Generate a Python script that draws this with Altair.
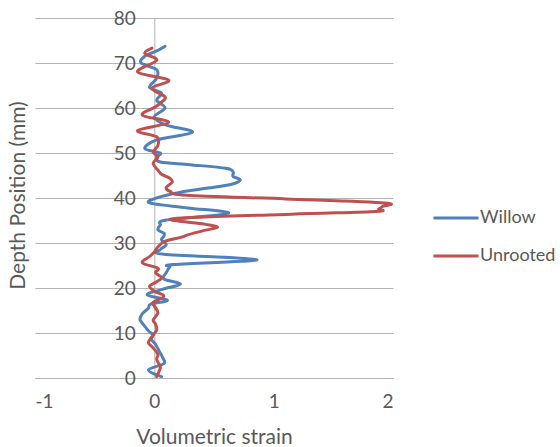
import altair as alt
import pandas as pd

# ---- data ----
willow_depth = [0.3, 1.8, 3.2, 4.5, 6.0, 7.5, 8.7, 9.5, 10.5, 11.5, 13.0, 14.3, 15.5, 16.4, 17.3,
                18.5, 19.8, 20.9, 22.0, 23.4, 24.7, 25.2, 26.3, 27.5, 28.5, 29.6, 30.7, 31.5, 32.2,
                32.9, 34.0, 35.1, 36.6, 37.8, 38.9, 40.2, 41.3, 42.2, 43.0, 44.0, 44.8, 45.8, 46.6,
                47.4, 48.0, 49.1, 50.0, 51.0, 52.9, 54.6, 56.2, 58.0, 60.0, 61.7, 63.3, 64.6, 66.6,
                68.5, 70.0, 71.5, 72.8, 73.7]
willow_strain = [0.06, -0.05, 0.08, 0.07, 0.04, 0.01, -0.03, -0.01, -0.05, -0.08, -0.12, -0.10, -0.05,
                 -0.03, 0.11, -0.06, 0.08, 0.22, 0.08, 0.10, 0.13, 0.16, 0.86, 0.08, 0.05, 0.10, 0.06,
                 0.08, 0.08, 0.03, 0.05, 0.10, 0.62, 0.28, -0.04, 0.04, 0.22, 0.45, 0.64, 0.72, 0.66,
                 0.66, 0.60, 0.30, 0.05, 0.02, 0.05, -0.08, 0.02, 0.32, 0.10, 0.00, 0.09, 0.02, 0.06,
                 -0.04, 0.02, 0.02, -0.11, -0.08, 0.03, 0.09]

unrooted_depth = [0.3, 1.5, 2.5, 4.1, 5.2, 6.7, 7.8, 8.8, 9.6, 10.7, 12.0, 12.9, 14.5, 16.0, 16.8,
                  18.2, 19.3, 20.4, 21.4, 22.3, 23.4, 24.4, 25.6, 27.0, 28.0, 29.1, 30.4, 31.3, 31.8,
                  32.8, 33.5, 34.2, 35.4, 36.4, 37.0, 37.5, 38.1, 38.9, 39.8, 40.6, 41.5, 42.4, 43.5,
                  44.4, 45.3, 46.2, 47.7, 49.1, 50.2, 51.7, 53.6, 55.0, 56.8, 58.4, 60.1, 61.3, 62.5,
                  64.4, 66.2, 68.0, 70.6, 72.1, 73.3]
unrooted_strain = [0.02, 0.04, 0.05, 0.02, 0.03, -0.01, -0.05, -0.03, -0.01, 0.02, 0.01, -0.01, 0.03,
                   0.00, -0.01, 0.08, 0.00, -0.04, 0.02, 0.06, 0.01, 0.03, -0.10, -0.04, 0.00, 0.03,
                   0.09, 0.23, 0.28, 0.42, 0.53, 0.42, 0.16, 1.15, 1.86, 1.88, 1.91, 1.93, 1.10, 0.27,
                   0.13, 0.10, 0.15, 0.13, 0.06, 0.03, -0.01, 0.03, -0.01, 0.03, 0.02, -0.14, 0.12,
                   -0.10, 0.00, 0.06, 0.09, -0.02, 0.12, -0.14, 0.02, -0.08, -0.02]

series_names = ["Willow", "Unrooted"]
series_colors = ["#4F81BD", "#C0504D"]
x_ticks = [-1, 0, 1, 2]
y_ticks = [0, 10, 20, 30, 40, 50, 60, 70, 80]

rows = []
for d, s in zip(willow_depth, willow_strain):
    rows.append({"series": "Willow", "depth": d, "strain": s})
for d, s in zip(unrooted_depth, unrooted_strain):
    rows.append({"series": "Unrooted", "depth": d, "strain": s})
df = pd.DataFrame(rows)

W, H = 358, 360
X0 = W / 3.0  # pixel position of strain = 0 inside the plot
FONT = "Lato"
TXT = "#595959"
GRID = "#B4B4B4"

chart = alt.Chart(df).mark_line(
    strokeWidth=3, interpolate="cardinal", strokeJoin="round", strokeCap="round", clip=False
).encode(
    x=alt.X("strain:Q",
            scale=alt.Scale(domain=[-1, 2], nice=False, zero=False),
            axis=alt.Axis(values=x_ticks, title="Volumetric strain", grid=False, ticks=False,
                          domain=True, domainColor=GRID, domainWidth=1,
                          labelExpr="datum.value + ''",
                          labelPadding=14, labelFontSize=19, labelColor=TXT, labelFont=FONT,
                          titleFont=FONT, titleFontSize=21, titleFontWeight="normal", titleColor=TXT,
                          titleY=59, titleBaseline="middle")),
    y=alt.Y("depth:Q",
            scale=alt.Scale(domain=[0, 80], nice=False),
            axis=alt.Axis(values=y_ticks, title="Depth Position (mm)", offset=-X0, grid=True,
                          gridColor=GRID, gridWidth=1, ticks=False, domain=True, domainColor=GRID,
                          domainWidth=1, labelPadding=19, labelFontSize=19, labelColor=TXT,
                          labelFont=FONT, titleFont=FONT, titleFontSize=21, titleFontWeight="normal",
                          titleColor=TXT, titleX=-(X0 + 35 - 18), titleY=177,
                          titleBaseline="middle", titleAlign="center", titleAngle=270)),
    color=alt.Color("series:N",
                    scale=alt.Scale(domain=series_names, range=series_colors),
                    legend=alt.Legend(orient="none", legendX=397, legendY=176, title=None,
                                      symbolType="stroke", symbolSize=2025, symbolStrokeWidth=3,
                                      labelFont=FONT, labelFontSize=18, labelColor=TXT,
                                      labelOffset=0, rowPadding=5, padding=0)),
    order=alt.Order("depth:Q"),
).properties(
    width=W, height=H,
    background="white",
    autosize=alt.AutoSizeParams(type="none"),
    padding={"left": 35, "top": 18, "right": 167, "bottom": 69},
).configure_view(stroke=None)

chart.save("out.html", embed_options={"renderer": "svg", "actions": False})
